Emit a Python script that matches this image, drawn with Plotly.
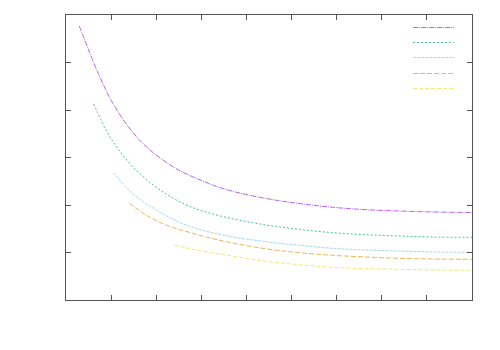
import plotly.graph_objects as go

# Series data (x in axis units 0..9, y in axis units 0..6)
purple_x = [0.295, 0.730, 1.035, 1.403, 1.811, 2.439, 3.032, 3.548, 4.434, 5.165, 5.912, 6.651, 7.382, 8.129, 9.0]
purple_y = [5.768, 4.737, 4.147, 3.621, 3.200, 2.768, 2.505, 2.326, 2.137, 2.032, 1.952, 1.901, 1.874, 1.853, 1.842]

green_x = [0.614, 0.887, 1.146, 1.514, 2.033, 2.587, 3.252, 4.434, 5.172, 5.912, 6.651, 7.389, 8.129, 9.0]
green_y = [4.126, 3.579, 3.194, 2.773, 2.352, 2.036, 1.810, 1.579, 1.488, 1.417, 1.375, 1.347, 1.326, 1.320]

blue_x = [1.057, 1.514, 2.068, 2.660, 3.474, 4.434, 5.172, 5.912, 6.651, 7.389, 8.129, 9.0]
blue_y = [2.680, 2.211, 1.859, 1.579, 1.368, 1.227, 1.152, 1.088, 1.053, 1.032, 1.011, 1.004]

orange_x = [1.403, 1.773, 2.217, 2.809, 3.547, 4.434, 5.172, 5.912, 6.651, 7.389, 8.129, 9.0]
orange_y = [2.036, 1.789, 1.579, 1.404, 1.227, 1.078, 0.996, 0.941, 0.905, 0.878, 0.863, 0.857]

yellow_x = [2.401, 2.882, 3.547, 4.434, 5.172, 5.912, 6.651, 7.389, 8.129, 9.0]
yellow_y = [1.158, 1.053, 0.947, 0.815, 0.743, 0.688, 0.659, 0.646, 0.632, 0.625]

x_ticks = [0, 1, 2, 3, 4, 5, 6, 7, 8, 9]
y_ticks = [0, 1, 2, 3, 4, 5, 6]

series = [
    (purple_x, purple_y, "#b366e3", "5px,1px,1px,1px"),
    (green_x, green_y, "#45c29c", "2px,2px"),
    (blue_x, blue_y, "#a8d8f4", "3px,1px"),
    (orange_x, orange_y, "#ebb757", "5px,2px"),
    (yellow_x, yellow_y, "#f3e874", "4px,2px"),
]

fig = go.Figure()
for xs, ys, col, dash in series:
    fig.add_trace(go.Scatter(
        x=xs, y=ys, mode="lines", showlegend=False,
        line=dict(color=col, width=1, dash=dash, shape="spline"),
    ))

# legend keys (no legend text in the reference), drawn in paper coordinates
key_x0, key_x1 = 0.855, 0.956
key_y = [0.95614, 0.90351, 0.85088, 0.79474, 0.74211]
for (xs, ys, col, dash), ky in zip(series, key_y):
    fig.add_shape(type="line", xref="paper", yref="paper",
                  x0=key_x0, x1=key_x1, y0=ky, y1=ky,
                  line=dict(color=col, width=1, dash=dash))

axis_common = dict(
    showgrid=False, zeroline=False, showticklabels=False,
    ticks="inside", ticklen=5, tickcolor="#555555", tickwidth=1,
    showline=True, linecolor="#555555", linewidth=1, mirror="ticks",
)
fig.update_xaxes(range=[0, 9], tickvals=x_ticks, **axis_common)
fig.update_yaxes(range=[0, 6], tickvals=y_ticks, **axis_common)

fig.update_layout(
    width=500, height=350,
    margin=dict(l=58, r=36, t=7, b=58),
    paper_bgcolor="white", plot_bgcolor="white",
    showlegend=False,
)

fig.write_html("out.html")
